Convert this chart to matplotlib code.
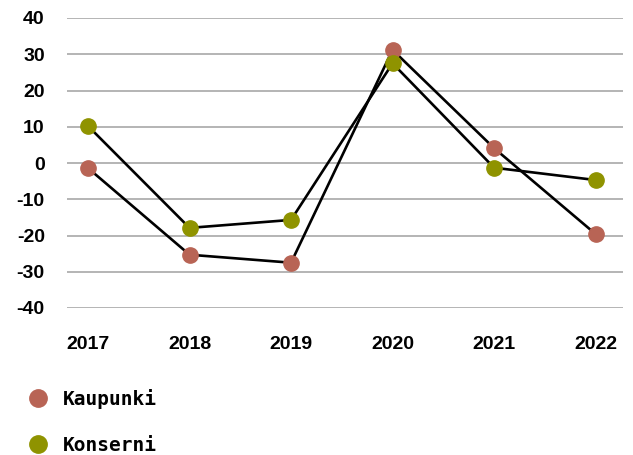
import matplotlib.pyplot as plt
from matplotlib.lines import Line2D

years = ["2017", "2018", "2019", "2020", "2021", "2022"]
kaupunki = [-1.4, -25.3, -27.5, 31.2, 4.1, -19.6]
konserni = [10.2, -17.9, -15.7, 27.5, -1.3, -4.7]
y_ticks = [40, 30, 20, 10, 0, -10, -20, -30, -40]

red = "#b86455"
olive = "#8f9300"

fig = plt.figure(figsize=(6.33, 4.55), dpi=100)
ax = fig.add_axes([67 / 633, 1 - 308 / 455, 556 / 633, 290 / 455])

x = list(range(len(years)))

# grid lines
for v in y_ticks:
    ax.axhline(v, color="#b4b4b4", linewidth=1.4, zorder=0)

# series: black connector lines, coloured dots on top
for vals, col in [(kaupunki, red), (konserni, olive)]:
    ax.plot(x, vals, color="black", linewidth=1.9, zorder=2)
    ax.plot(x, vals, linestyle="none", marker="o", markersize=11,
            markerfacecolor=col, markeredgecolor=col, zorder=3)

ax.set_xlim(-0.207, 5.27)
ax.set_ylim(-40, 40)
ax.set_xticks(x)
ax.set_xticklabels(years)
ax.set_yticks(y_ticks)
ax.set_yticklabels([str(v) for v in y_ticks])
ax.tick_params(length=0)
ax.tick_params(axis="x", pad=20)
ax.tick_params(axis="y", pad=16)
for lab in ax.get_xticklabels() + ax.get_yticklabels():
    lab.set_family("Liberation Sans")
    lab.set_weight("bold")
    lab.set_fontsize(14)
for s in ax.spines.values():
    s.set_visible(False)

# legend
handles = [
    Line2D([], [], linestyle="none", marker="o", markersize=12.5,
           markerfacecolor=red, markeredgecolor=red),
    Line2D([], [], linestyle="none", marker="o", markersize=12.5,
           markerfacecolor=olive, markeredgecolor=olive),
]
fig.legend(handles, ["Kaupunki", "Konserni"], loc="upper left",
           bbox_to_anchor=(28 / 633, 1 - 389 / 455), frameon=False,
           prop={"family": "DejaVu Sans Mono", "weight": "bold", "size": 14},
           labelspacing=1.4, handletextpad=0.8, handlelength=1.0,
           borderpad=0, borderaxespad=0)

fig.savefig("out.png", dpi=100)
